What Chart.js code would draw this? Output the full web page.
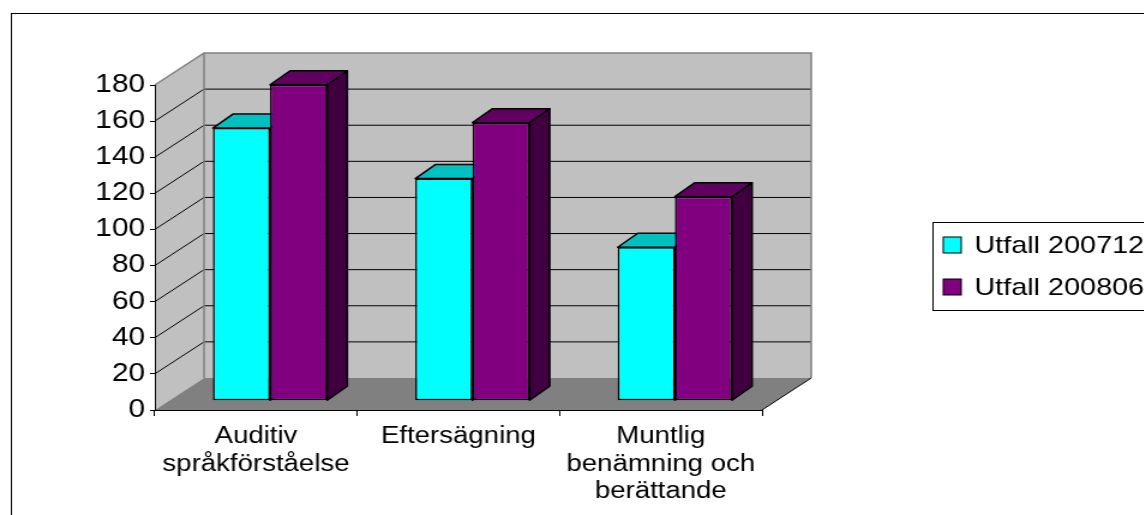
<!DOCTYPE html>
<html>
<head>
<meta charset="utf-8">
<script src="https://cdn.jsdelivr.net/npm/chart.js@4.4.0/dist/chart.umd.min.js"></script>
<style>
  html, body { margin: 0; padding: 0; background: #fff; overflow: hidden; }
  #wrap { width: 1144px; height: 515px; overflow: hidden; }
  /* the sheet is drawn narrow and stretched sideways, like the old office export */
  #chart { display: block; transform: scaleX(1.2); transform-origin: 0 0; }
</style>
</head>
<body>
<div id="wrap"><canvas id="chart" width="954" height="515"></canvas></div>
<script>
const categories = [['Auditiv', 'språkförståelse'], 'Eftersägning', ['Muntlig', 'benämning och', 'berättande']];
const seriesNames = ['Utfall 200712', 'Utfall 200806'];
const utfall200712 = [151, 123, 85];
const utfall200806 = [175, 154, 113];
const yTicks = [0, 20, 40, 60, 80, 100, 120, 140, 160, 180];

const FONT = '"Liberation Sans", Arial, sans-serif';
const frontColors = ['#00ffff', '#800080'];
const topColors = ['#00c0c0', '#600060'];
const sideColors = ['#008080', '#400040'];

// oblique offsets for the fake 3D box
const WALL = { x: 41, y: -32 };
const BAR_SHIFT = { x: 11.7, y: -9.3 };
const BAR_DEPTH = { x: 16.7, y: -14 };

function poly(ctx, pts, fill, stroke, lw) {
  ctx.beginPath();
  ctx.moveTo(pts[0][0], pts[0][1]);
  for (let i = 1; i < pts.length; i++) ctx.lineTo(pts[i][0], pts[i][1]);
  ctx.closePath();
  if (fill) { ctx.fillStyle = fill; ctx.fill(); }
  if (stroke) { ctx.strokeStyle = stroke; ctx.lineWidth = lw || 1; ctx.stroke(); }
}

function line(ctx, pts, color, lw) {
  ctx.beginPath();
  ctx.moveTo(pts[0][0], pts[0][1]);
  for (let i = 1; i < pts.length; i++) ctx.lineTo(pts[i][0], pts[i][1]);
  ctx.strokeStyle = color;
  ctx.lineWidth = lw || 1;
  ctx.stroke();
}

const box3d = {
  id: 'box3d',
  beforeDraw(chart) {
    const ctx = chart.ctx;
    const { left: L, right: R } = chart.chartArea;
    const ys = chart.scales.y;
    const B = ys.getPixelForValue(0), T = ys.getPixelForValue(180);
    const dx = WALL.x, dy = WALL.y;

    ctx.save();
    ctx.fillStyle = '#fff';
    ctx.fillRect(0, 0, chart.width, chart.height);
    ctx.strokeStyle = '#000';
    ctx.lineWidth = 1;
    ctx.strokeRect(9.5, 13.5, 2000, 1000);

    // side wall, back wall, floor
    poly(ctx, [[L, B], [L + dx, B + dy], [L + dx, T + dy], [L, T]], '#c0c0c0');
    poly(ctx, [[L + dx, T + dy], [R + dx, T + dy], [R + dx, B + dy], [L + dx, B + dy]], '#c0c0c0');
    poly(ctx, [[L, B], [R, B], [R + dx, B + dy], [L + dx, B + dy]], '#808080');

    // gridlines bend round the side wall onto the back wall
    yTicks.forEach(v => {
      if (v === 0 || v === 180) return;
      const y = ys.getPixelForValue(v);
      line(ctx, [[L, y], [L + dx, y + dy], [R + dx, y + dy]], '#000', 1);
    });

    // wall edges
    line(ctx, [[L, T], [L + dx, T + dy], [R + dx, T + dy], [R + dx, B + dy]], '#808080', 1.5);
    line(ctx, [[L + dx, T + dy], [L + dx, B + dy]], '#808080', 1.5);
    line(ctx, [[R, B], [R + dx, B + dy]], '#000', 1);
    ctx.restore();
  },
  beforeDatasetsDraw(chart) {
    const ctx = chart.ctx;
    ctx.save();
    ctx.lineJoin = 'round';
    chart.data.datasets.forEach((ds, i) => {
      chart.getDatasetMeta(i).data.forEach(bar => {
        const { x, y, base, width } = bar.getProps(['x', 'y', 'base', 'width'], true);
        const l = x - width / 2 + BAR_SHIFT.x, r = x + width / 2 + BAR_SHIFT.x;
        const t = y + BAR_SHIFT.y, b = base + BAR_SHIFT.y;
        const dx = BAR_DEPTH.x, dy = BAR_DEPTH.y;
        poly(ctx, [[r, t], [r + dx, t + dy], [r + dx, b + dy], [r, b]], sideColors[i], '#000', 1.5);
        poly(ctx, [[l, t], [r, t], [r + dx, t + dy], [l + dx, t + dy]], topColors[i], '#000', 1.5);
      });
    });
    ctx.restore();
    // front faces sit a little way into the box
    ctx.save();
    ctx.translate(BAR_SHIFT.x, BAR_SHIFT.y);
  },
  afterDatasetsDraw(chart) {
    const ctx = chart.ctx;
    ctx.restore();

    // legend
    ctx.save();
    ctx.strokeStyle = '#000';
    ctx.lineWidth = 1;
    ctx.strokeRect(777.5, 222.5, 400, 88);
    ctx.font = '24px ' + FONT;
    ctx.textBaseline = 'middle';
    chart.data.datasets.forEach((ds, i) => {
      const cy = 245 + i * 42;
      ctx.fillStyle = ds.backgroundColor;
      ctx.fillRect(786, cy - 8, 15, 16);
      ctx.strokeRect(786, cy - 8, 15, 16);
      ctx.fillStyle = '#000';
      ctx.fillText(ds.label, 812, cy + 1);
    });
    ctx.restore();
  }
};

new Chart(document.getElementById('chart'), {
  type: 'bar',
  data: {
    labels: categories,
    datasets: [
      { label: seriesNames[0], data: utfall200712, backgroundColor: frontColors[0] },
      { label: seriesNames[1], data: utfall200806, backgroundColor: frontColors[1] }
    ]
  },
  options: {
    responsive: false,
    animation: false,
    devicePixelRatio: 1,
    datasets: {
      bar: {
        borderColor: '#000',
        borderWidth: 1.5,
        borderSkipped: false,
        categoryPercentage: 0.565,
        barPercentage: 1
      }
    },
    layout: { padding: { top: 85, right: 319, bottom: 0, left: 0 } },
    plugins: { legend: { display: false }, tooltip: { enabled: false } },
    scales: {
      y: {
        min: 0,
        max: 180,
        afterFit: s => { s.width = 129; },
        ticks: { stepSize: 20, color: '#000', padding: 4, font: { family: FONT, size: 25 } },
        grid: { drawOnChartArea: false, drawTicks: true, tickLength: 4, color: '#000' },
        border: { color: '#000', width: 1 }
      },
      x: {
        afterFit: s => { s.height = 105; },
        ticks: {
          color: '#000', padding: 7, maxRotation: 0, autoSkip: false,
          font: { family: FONT, size: 23, lineHeight: 1.2 }
        },
        grid: { drawOnChartArea: false, drawTicks: true, tickLength: 6, color: '#000', offset: true },
        border: { color: '#000', width: 1 }
      }
    }
  },
  plugins: [box3d]
});
</script>
</body>
</html>
